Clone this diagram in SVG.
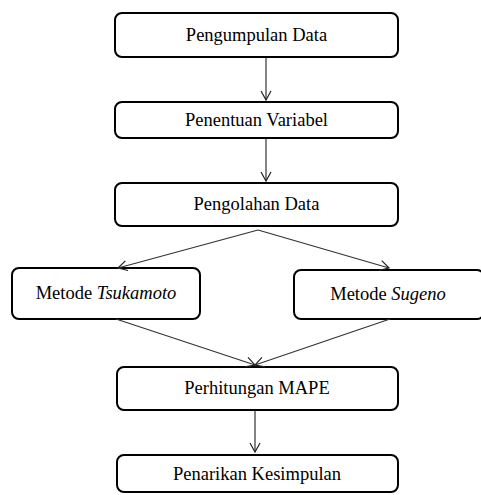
<svg xmlns="http://www.w3.org/2000/svg" width="481" height="495" viewBox="0 0 481 495">
<defs>
<marker id="ah" markerWidth="12" markerHeight="12" refX="10" refY="6" orient="auto" markerUnits="userSpaceOnUse">
<path d="M1,1 L10,6 L1,11" fill="none" stroke="#222" stroke-width="1.2"/>
</marker>
<style>
.box{fill:#fff;stroke:#000;stroke-width:2}
.lbl{font-family:"Liberation Serif","Times New Roman",serif;font-size:18.5px;fill:#000;text-anchor:middle}
.con{stroke:#333;stroke-width:1.2;fill:none}
</style>
</defs>
<rect width="481" height="495" fill="#fff"/>
<g id="n1"><rect class="box" x="115" y="13" width="283" height="44" rx="7"/><text class="lbl" x="256.5" y="41">Pengumpulan Data</text></g>
<g id="n2"><rect class="box" x="115" y="102" width="283" height="36" rx="7"/><text class="lbl" x="256.5" y="126">Penentuan Variabel</text></g>
<g id="n3"><rect class="box" x="115" y="183" width="283" height="43" rx="7"/><text class="lbl" x="256.5" y="210">Pengolahan Data</text></g>
<g id="n4"><rect class="box" x="12" y="268" width="188" height="51" rx="7"/><text class="lbl" x="106" y="299">Metode <tspan font-style="italic">Tsukamoto</tspan></text></g>
<g id="n5"><rect class="box" x="294" y="270" width="190" height="49" rx="7"/><text class="lbl" x="388" y="300">Metode <tspan font-style="italic">Sugeno</tspan></text></g>
<g id="n6"><rect class="box" x="117" y="367" width="281" height="43" rx="7"/><text class="lbl" x="257" y="394">Perhitungan MAPE</text></g>
<g id="n7"><rect class="box" x="117" y="455" width="281" height="37" rx="7"/><text class="lbl" x="257" y="480">Penarikan Kesimpulan</text></g>
<g id="connectors">
<line class="con" x1="266" y1="58" x2="266" y2="100" marker-end="url(#ah)"/>
<line class="con" x1="266" y1="139" x2="266" y2="181" marker-end="url(#ah)"/>
<line class="con" x1="258" y1="230" x2="118" y2="268" marker-end="url(#ah)"/>
<line class="con" x1="258" y1="230" x2="389" y2="268" marker-end="url(#ah)"/>
<line class="con" x1="116" y1="319" x2="255" y2="365" marker-end="url(#ah)"/>
<line class="con" x1="390" y1="319" x2="255" y2="365" marker-end="url(#ah)"/>
<line class="con" x1="255" y1="411" x2="255" y2="452" marker-end="url(#ah)"/>
</g>
</svg>
